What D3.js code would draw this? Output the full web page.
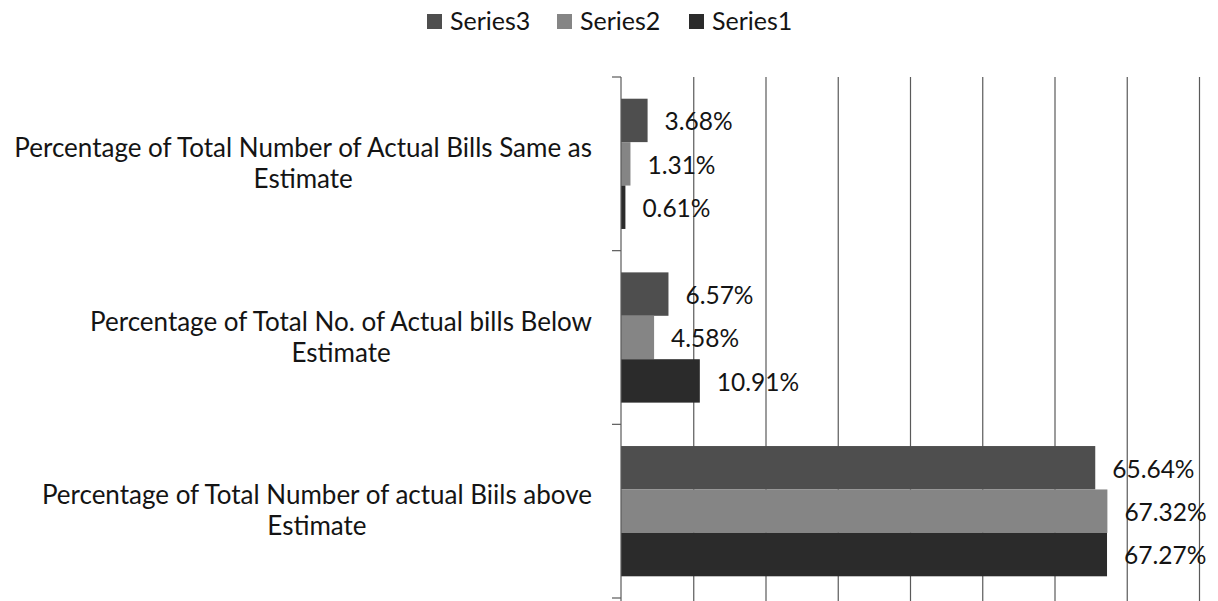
<!DOCTYPE html>
<html>
<head>
<meta charset="utf-8">
<script src="https://cdn.jsdelivr.net/npm/d3@7/dist/d3.min.js"></script>
<style>
  html, body { margin: 0; padding: 0; background: #ffffff; }
  svg { display: block; }
  text { font-family: Lato, "Open Sans", sans-serif; fill: #141414; }
</style>
</head>
<body>
<svg id="chart" width="1218" height="601"></svg>
<script>
// ---- data ----
const categories = [
  "Percentage of Total Number of Actual Bills Same as Estimate",
  "Percentage of Total No. of Actual bills Below Estimate",
  "Percentage of Total Number of actual Biils above Estimate"
];
const categoryLines = [
  ["Percentage of Total Number of Actual Bills Same as", "Estimate"],
  ["Percentage of Total No. of Actual bills Below", "Estimate"],
  ["Percentage of Total Number of actual Biils above", "Estimate"]
];
const seriesNames = ["Series3", "Series2", "Series1"];
const series3 = [3.68, 6.57, 65.64];
const series2 = [1.31, 4.58, 67.32];
const series1 = [0.61, 10.91, 67.27];
const seriesValues = { Series3: series3, Series2: series2, Series1: series1 };
const seriesColors = { Series3: "#4e4e4e", Series2: "#858585", Series1: "#2b2b2b" };
const gridTicks = [10, 20, 30, 40, 50, 60, 70, 80];
const legendOrder = ["Series3", "Series2", "Series1"];

// ---- layout ----
const svg = d3.select("#chart");
const plot = { left: 621, right: 1199, top: 77, bottom: 598 };
const catFont = 26;
const valFont = 24.5;
const legFont = 25;

const x = d3.scaleLinear().domain([0, 80]).range([plot.left, plot.right]);
const y = d3.scaleBand().domain(categories).range([plot.top, plot.bottom])
  .paddingInner(0.25).paddingOuter(0.125);
const ySub = d3.scaleBand().domain(seriesNames).range([0, y.bandwidth()]);
const step = y.step();

// gridlines
svg.append("g")
  .attr("transform", `translate(0,${plot.bottom + 3})`)
  .call(d3.axisBottom(x).tickValues(gridTicks).tickSize(-(plot.bottom + 3 - plot.top)).tickFormat(""))
  .call(g => g.select(".domain").remove())
  .call(g => g.selectAll(".tick line").attr("stroke", "#5a5a5a").attr("stroke-width", 1.2));

// bars
const groups = svg.append("g").selectAll("g")
  .data(categories)
  .join("g")
  .attr("transform", d => `translate(0,${y(d)})`);

groups.each(function(cat, ci) {
  const g = d3.select(this);
  seriesNames.forEach(s => {
    const v = seriesValues[s][ci];
    g.append("rect")
      .attr("x", x(0))
      .attr("y", ySub(s))
      .attr("width", x(v) - x(0))
      .attr("height", ySub.bandwidth())
      .attr("fill", seriesColors[s]);
    g.append("text")
      .attr("x", x(v) + 17)
      .attr("y", ySub(s) + ySub.bandwidth() / 2)
      .attr("dy", "0.4em")
      .attr("font-size", valFont)
      .text(v.toFixed(2) + "%");
  });
});

// vertical axis with boundary ticks
const axisG = svg.append("g");
axisG.append("line")
  .attr("x1", x(0)).attr("x2", x(0))
  .attr("y1", plot.top).attr("y2", plot.bottom + 3)
  .attr("stroke", "#5a5a5a").attr("stroke-width", 1.2);
d3.range(categories.length + 1).forEach(i => {
  const yy = y.range()[0] + i * step;
  axisG.append("line")
    .attr("x1", x(0) - 9).attr("x2", x(0))
    .attr("y1", yy).attr("y2", yy)
    .attr("stroke", "#5a5a5a").attr("stroke-width", 1.2);
});

// category labels (wrapped, right-aligned block, centered lines)
const labelRight = 592;
categories.forEach((cat, ci) => {
  const center = y(cat) + y.bandwidth() / 2;
  const lines = categoryLines[ci];
  const g = svg.append("g");
  const texts = lines.map((ln, li) => g.append("text")
    .attr("font-size", catFont)
    .attr("text-anchor", "middle")
    .attr("y", center - 7 + li * 31)
    .text(ln));
  const w = d3.max(texts, t => t.node().getComputedTextLength());
  texts.forEach(t => t.attr("x", labelRight - w / 2));
});

// legend
const legendX = [427, 557, 689];
legendOrder.forEach((s, i) => {
  svg.append("rect")
    .attr("x", legendX[i]).attr("y", 14)
    .attr("width", 15).attr("height", 15)
    .attr("fill", seriesColors[s]);
  svg.append("text")
    .attr("x", legendX[i] + 23).attr("y", 30)
    .attr("font-size", legFont)
    .text(s);
});
</script>
</body>
</html>
